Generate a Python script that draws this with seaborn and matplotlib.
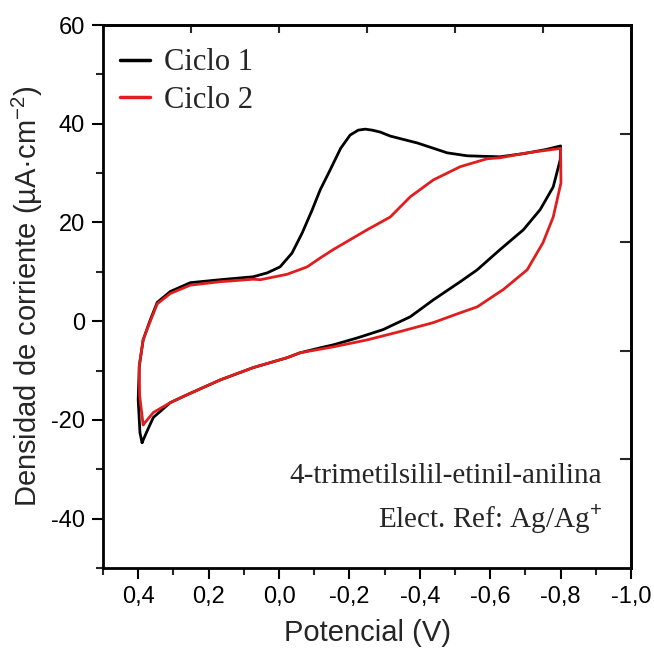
import numpy as np
import pandas as pd
import matplotlib
matplotlib.use("Agg")
import matplotlib.pyplot as plt
from matplotlib.ticker import MultipleLocator, FuncFormatter
import seaborn as sns

# ---- data (potential V, current density uA/cm2) ----
ciclo1_v = [0.389, 0.395, 0.400, 0.397, 0.386, 0.366, 0.346, 0.309, 0.252, 0.167,
            0.073, 0.033, -0.003, -0.037, -0.066, -0.094, -0.117, -0.145, -0.175,
            -0.202, -0.225, -0.245, -0.265, -0.288, -0.316, -0.393, -0.478, -0.535,
            -0.628, -0.700, -0.760, -0.800,
            -0.799, -0.779, -0.742, -0.694, -0.628, -0.563, -0.515, -0.438, -0.373,
            -0.296, -0.222, -0.154, -0.117, -0.060, -0.023, 0.073, 0.167, 0.261,
            0.309, 0.357, 0.375, 0.389]
ciclo1_i = [-24.6, -22.6, -15.9, -9.2, -3.8, 0.2, 3.8, 6.0, 7.8, 8.4,
            9.0, 9.8, 11.0, 13.8, 17.9, 22.5, 26.6, 30.6, 35.0,
            37.7, 38.7, 38.9, 38.7, 38.3, 37.5, 36.1, 34.1, 33.5,
            33.3, 34.0, 34.8, 35.5,
            32.7, 27.2, 22.6, 18.5, 14.5, 10.4, 8.0, 4.3, 0.9,
            -1.7, -3.4, -4.8, -5.4, -6.4, -7.4, -9.4, -11.9, -14.9,
            -16.5, -19.5, -22.3, -24.6]

ciclo2_v = [0.386, 0.396, 0.397, 0.386, 0.374, 0.346, 0.309, 0.252, 0.167, 0.073,
            0.053, -0.023, -0.080, -0.117, -0.154, -0.250, -0.316, -0.373, -0.438,
            -0.515, -0.591, -0.628, -0.705, -0.800,
            -0.801, -0.779, -0.750, -0.705, -0.637, -0.563, -0.515, -0.438, -0.344,
            -0.250, -0.154, -0.060, -0.023, 0.073, 0.167, 0.261, 0.309, 0.357, 0.386]
ciclo2_i = [-21.0, -15.0, -9.0, -3.8, -1.5, 3.5, 5.6, 7.3, 8.0, 8.5,
            8.4, 9.5, 11.0, 12.8, 14.5, 18.5, 21.1, 25.2, 28.6,
            31.3, 32.9, 33.1, 34.1, 35.0,
            28.0, 21.1, 15.9, 10.4, 6.4, 2.9, 1.7, -0.3, -2.1,
            -3.8, -5.2, -6.4, -7.4, -9.4, -11.9, -14.9, -16.5, -18.5, -21.0]

series_names = ["Ciclo 1", "Ciclo 2"]
series_colors = ["#000000", "#e01e1e"]
x_ticks = [0.4, 0.2, 0.0, -0.2, -0.4, -0.6, -0.8, -1.0]
y_ticks = [-40, -20, 0, 20, 40, 60]
top_ticks = [0.25, 0.0, -0.25, -0.5, -0.75]
right_ticks = [38, 16, -6, -28]

df = pd.concat([
    pd.DataFrame({"V": ciclo1_v, "I": ciclo1_i, "serie": series_names[0]}),
    pd.DataFrame({"V": ciclo2_v, "I": ciclo2_i, "serie": series_names[1]}),
], ignore_index=True)

sns.set_style("ticks")
plt.rcParams["font.family"] = ["Liberation Sans", "DejaVu Sans"]
plt.rcParams["axes.unicode_minus"] = False
plt.rcParams["mathtext.fontset"] = "custom"
plt.rcParams["mathtext.rm"] = "Liberation Sans"
plt.rcParams["mathtext.it"] = "Liberation Sans:italic"
plt.rcParams["mathtext.bf"] = "Liberation Sans:bold"

fig = plt.figure(figsize=(6.54, 6.52), dpi=100)
ax = fig.add_axes([103 / 654, 1 - 568 / 652, 528 / 654, 543 / 652])

sns.lineplot(data=df, x="V", y="I", hue="serie", palette=series_colors,
             sort=False, estimator=None, units="serie", lw=2.0, ax=ax,
             legend=True)

ax.set_xlim(0.5, -1.0)
ax.set_ylim(-50, 60)
ax.set_xticks(x_ticks)
ax.set_yticks(y_ticks)
ax.xaxis.set_minor_locator(MultipleLocator(0.1))
ax.yaxis.set_minor_locator(MultipleLocator(10))
fmt = FuncFormatter(lambda v, p: ("%.1f" % (0.0 if abs(v) < 1e-9 else v)).replace(".", ","))
ax.xaxis.set_major_formatter(fmt)
ax.tick_params(axis="both", which="major", direction="out", length=8, width=1.5,
               labelsize=17, pad=5, colors="black")
ax.tick_params(axis="both", which="minor", direction="out", length=5, width=1.5)
ax.tick_params(top=False, right=False)

for s in ax.spines.values():
    s.set_linewidth(2.0)
    s.set_color("black")

secx = ax.secondary_xaxis("top")
secx.set_xticks(top_ticks)
secx.tick_params(direction="in", length=6, width=1.5, labeltop=False)
secx.spines["top"].set_linewidth(2.0)
secy = ax.secondary_yaxis("right")
secy.set_yticks(right_ticks)
secy.tick_params(direction="in", length=8, width=1.5, labelright=False)
secy.spines["right"].set_linewidth(2.0)

ax.set_xlabel("Potencial (V)", fontsize=21, labelpad=8)
ax.set_ylabel("Densidad de corriente (µA·cm$^{-2}$)", fontsize=21, labelpad=4)

leg = ax.legend(loc="upper left", bbox_to_anchor=(0.02, 0.968), frameon=False,
                prop={"family": "Liberation Serif", "size": 22},
                handlelength=1.0, handletextpad=0.45, labelspacing=0.28,
                borderaxespad=0.0, borderpad=0.2)
for h in leg.get_lines():
    h.set_linewidth(2.5)

ax.text(0.945, 0.1565, "4-trimetilsilil-etinil-anilina", transform=ax.transAxes,
        ha="right", va="baseline", fontsize=21, family="Liberation Serif")
ax.text(0.945, 0.0737, "Elect. Ref: Ag/Ag$^{+}$", transform=ax.transAxes,
        ha="right", va="baseline", fontsize=21, family="Liberation Serif")

fig.savefig("out.png", dpi=100)
